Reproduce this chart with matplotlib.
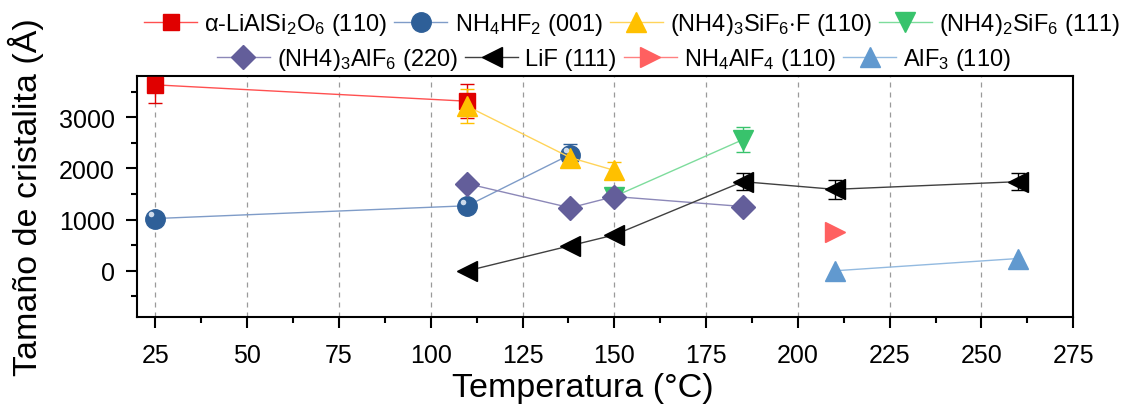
"""
Tamaño de cristalita vs temperatura para las fases identificadas por DRX.
"""

import matplotlib
matplotlib.use('Agg')
import matplotlib.pyplot as plt
import matplotlib.transforms as mtransforms
import numpy as np

plt.rcParams['font.family'] = ['Liberation Sans', 'DejaVu Sans']
plt.rcParams['mathtext.fontset'] = 'custom'
plt.rcParams['mathtext.rm'] = 'Liberation Sans'
plt.rcParams['mathtext.it'] = 'Liberation Sans'

# ==================== DATOS ====================

t_spod = [25, 110]
d_spod = [3630, 3310]
e_spod = [360, 335]

t_nh4hf2 = [25, 110, 138]
d_nh4hf2 = [1020, 1270, 2270]
e_nh4hf2 = [0, 0, 200]

t_sif6f = [110, 138, 150]
d_sif6f = [3210, 2210, 1960]
e_sif6f = [330, 80, 170]

t_sif6 = [150, 185]
d_sif6 = [1450, 2560]
e_sif6 = [0, 250]

t_alf6 = [110, 138, 150, 185]
d_alf6 = [1700, 1230, 1450, 1255]

t_lif = [110, 138, 150, 185, 210, 260]
d_lif = [0, 490, 700, 1740, 1590, 1740]
e_lif = [0, 0, 0, 170, 190, 170]

t_alf4 = [210]
d_alf4 = [760]

t_alf3 = [210, 260]
d_alf3 = [0, 240]

labels_row1 = [r'$\alpha$-LiAlSi$_2$O$_6$ (110)', r'NH$_4$HF$_2$ (001)',
               r'(NH4)$_3$SiF$_6$$\cdot$F (110)', r'(NH4)$_2$SiF$_6$ (111)']
labels_row2 = [r'(NH4)$_3$AlF$_6$ (220)', 'LiF (111)',
               r'NH$_4$AlF$_4$ (110)', r'AlF$_3$ (110)']

x_ticks = [25, 50, 75, 100, 125, 150, 175, 200, 225, 250, 275]
y_ticks = [0, 1000, 2000, 3000]

# ==================== GRAFICO ====================

fig = plt.figure(figsize=(11.39, 4.06), dpi=100)
ax = fig.add_axes([0.1203, 0.217, 0.822, 0.593])

for xv in x_ticks:
    ax.axvline(xv, color='#9a9a9a', lw=0.9, ls=(0, (4, 4)), zorder=0)

# (t, d, err, marker, ms, color marcador, color linea)
series = [
    (t_spod, d_spod, e_spod, 's', 12, '#E00000', '#FF5050'),
    (t_nh4hf2, d_nh4hf2, e_nh4hf2, 'o', 14, '#2E5F98', '#7F9CC8'),
    (t_sif6f, d_sif6f, e_sif6f, '^', 15, '#FFC000', '#FFD45A'),
    (t_sif6, d_sif6, e_sif6, 'v', 15, '#38C36C', '#7DDC9C'),
    (t_alf6, d_alf6, None, 'D', 12.5, '#635E9A', '#8C88B8'),
    (t_lif, d_lif, e_lif, '<', 15, '#000000', '#404040'),
    (t_alf4, d_alf4, None, '>', 15, '#FF6060', '#FF8080'),
    (t_alf3, d_alf3, None, '^', 15, '#6199CF', '#93BAE0'),
]

handles = []
for t, d, e, mk, ms, fc, lc in series:
    if e is not None:
        ax.errorbar(t, d, yerr=e, fmt='none', ecolor=fc, elinewidth=1.0,
                    capsize=5, capthick=1.0, zorder=2)
    ln, = ax.plot(t, d, color=lc, lw=1.0, marker=mk, ms=ms,
                  markerfacecolor=fc, markeredgecolor=fc, zorder=3)
    handles.append(ln)

# brillo sobre las esferas de NH4HF2
shift = mtransforms.ScaledTranslation(-3 / 72, 3 / 72, fig.dpi_scale_trans)
ax.plot(t_nh4hf2, d_nh4hf2, ls='none', marker='o', ms=4,
        markerfacecolor='#dfe8f4', markeredgecolor='none', alpha=0.9,
        transform=ax.transData + shift, zorder=4)

ax.set_xlim(20, 275)
ax.set_ylim(-900, 3800)
ax.set_xticks(x_ticks)
ax.set_xticks(np.arange(37.5, 275, 25), minor=True)
ax.set_yticks(y_ticks)
ax.set_yticks([-500, 500, 1500, 2500, 3500], minor=True)
ax.tick_params(axis='both', which='major', direction='out', length=8,
               width=1.5, labelsize=18)
ax.tick_params(axis='both', which='minor', direction='out', length=4.5,
               width=1.5)
ax.tick_params(axis='x', which='major', pad=11)
ax.tick_params(axis='y', which='major', pad=8)
for sp in ax.spines.values():
    sp.set_linewidth(1.5)

ax.set_xlabel('Temperatura (°C)', fontsize=24.5)
ax.set_ylabel('Tamaño de cristalita (Å)', fontsize=24.5)
ax.xaxis.set_label_coords(0.476, -0.228)
ax.yaxis.set_label_coords(-0.099, 0.5)

leg_kw = dict(ncol=4, frameon=False, fontsize=17, handlelength=2.25,
              handletextpad=0.3, columnspacing=0.3, borderaxespad=0,
              borderpad=0, loc='center')
leg1 = fig.legend(handles[:4], labels_row1, bbox_to_anchor=(0.555, 0.938), **leg_kw)
leg2 = fig.legend(handles[4:], labels_row2, bbox_to_anchor=(0.539, 0.852), **leg_kw)

fig.savefig('out.png', dpi=100)
